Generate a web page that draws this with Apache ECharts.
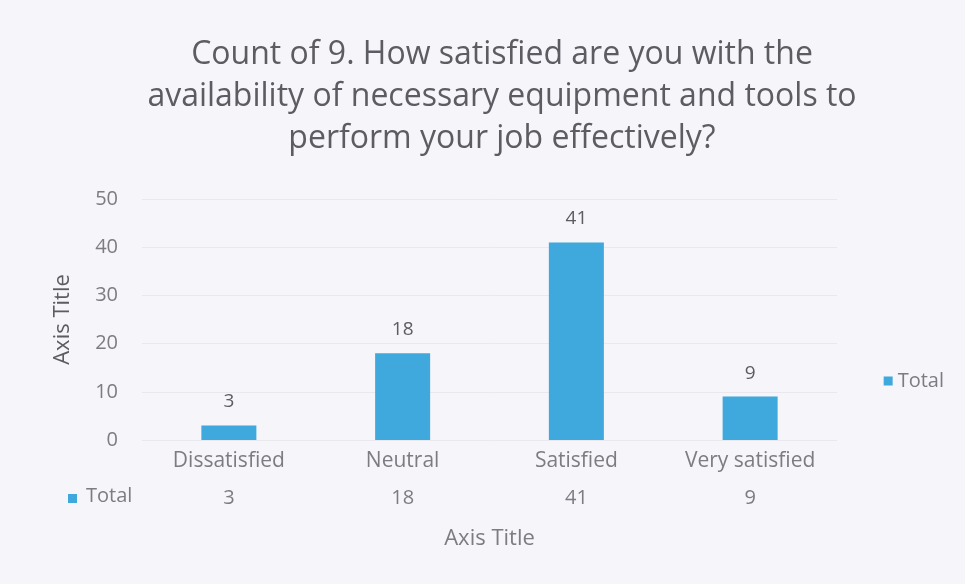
<!DOCTYPE html>
<html><head><meta charset="utf-8">
<script src="https://cdn.jsdelivr.net/npm/echarts@6/dist/echarts.min.js"></script>
<style>html,body{margin:0;padding:0;background:#f5f5fa;}#c{width:965px;height:584px;}</style>
</head><body><div id="c"></div>
<script>
const categories = ['Dissatisfied', 'Neutral', 'Satisfied', 'Very satisfied'];
const totals = [3, 18, 41, 9];
const yTicks = [0, 10, 20, 30, 40, 50];
const seriesName = 'Total';
const titleText = 'Count of 9. How satisfied are you with the\navailability of necessary equipment and tools to\nperform your job effectively?';

const F = '"Open Sans", Lato, sans-serif';
const G = '#7c7c82';
const chart = echarts.init(document.getElementById('c'));
chart.setOption({
  backgroundColor: '#f5f5fa',
  animation: false,
  title: {
    text: titleText, left: 497, textAlign: 'center', top: 29,
    textStyle: {fontFamily: F, fontSize: 32, fontWeight: 'normal', color: '#5c5c62', lineHeight: 42}
  },
  legend: {
    data: [seriesName], right: 16, top: 366, itemWidth: 9, itemHeight: 9, icon: 'rect', itemGap: 6,
    textStyle: {fontFamily: F, fontSize: 20, color: G}
  },
  grid: {left: 142, right: 128, top: 199, bottom: 144, containLabel: false},
  xAxis: [{
    type: 'category', data: categories, position: 'bottom',
    axisLine: {show: false}, axisTick: {show: false},
    axisLabel: {fontFamily: F, fontSize: 21, color: G, margin: 11},
    name: 'Axis Title', nameLocation: 'middle', nameGap: 88,
    nameTextStyle: {fontFamily: F, fontSize: 22, color: G}
  }, {
    type: 'category', data: totals.map(String), position: 'bottom', offset: 48,
    axisLine: {show: false}, axisTick: {show: false},
    axisLabel: {fontFamily: F, fontSize: 20, color: G, margin: 0}
  }],
  yAxis: {
    type: 'value', min: yTicks[0], max: yTicks[yTicks.length - 1], interval: 10,
    axisLine: {show: false}, axisTick: {show: false},
    axisLabel: {fontFamily: F, fontSize: 20, color: G, margin: 24},
    splitLine: {lineStyle: {color: '#e8e8ee', width: 1}},
    name: 'Axis Title', nameLocation: 'middle', nameGap: 68, nameRotate: 90,
    nameTextStyle: {fontFamily: F, fontSize: 22, color: '#5c5c62'}
  },
  series: [{
    name: seriesName, type: 'bar', data: totals, barWidth: 55, xAxisIndex: 0,
    itemStyle: {color: '#3fa8dc'},
    label: {show: true, position: 'top', distance: 14, fontFamily: F, fontSize: 19, color: '#5c5c62'}
  }],
  graphic: [{
    type: 'rect', left: 68, top: 494, shape: {width: 9, height: 9}, style: {fill: '#3fa8dc'}
  }, {
    type: 'text', left: 86, top: 486, style: {text: seriesName, font: '20px ' + F, fill: G}
  }]
});
</script></body></html>
